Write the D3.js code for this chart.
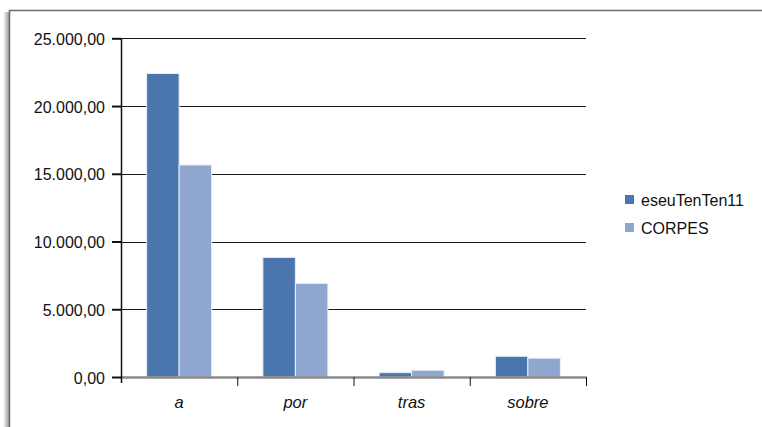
<!DOCTYPE html>
<html>
<head>
<meta charset="utf-8">
<script src="https://cdn.jsdelivr.net/npm/d3@7"></script>
<style>
  html, body { margin: 0; padding: 0; background: #fff; }
  svg { display: block; font-family: "Liberation Sans", Arial, sans-serif; }
</style>
</head>
<body>
<svg id="chart" width="762" height="427"></svg>
<script>
// Prepositions and their frequencies in two corpora
const categories = ["a", "por", "tras", "sobre"];
const seriesNames = ["eseuTenTen11", "CORPES"];
const eseuTenTen11 = [22400, 8830, 320, 1530];
const corpes = [15650, 6910, 500, 1390];
const yTicks = [0, 5000, 10000, 15000, 20000, 25000];

const seriesValues = [eseuTenTen11, corpes];
const colors = ["#4a75ad", "#8fa7cf"];

const svg = d3.select("#chart");

// Frame with a soft shadow on its left edge
const defs = svg.append("defs");
const grad = defs.append("linearGradient").attr("id", "shade").attr("x1", 0).attr("x2", 1);
grad.append("stop").attr("offset", 0).attr("stop-color", "#fff");
grad.append("stop").attr("offset", 1).attr("stop-color", "#8a8a8a");
svg.append("rect").attr("x", 3).attr("y", 12).attr("width", 7).attr("height", 420).attr("fill", "url(#shade)");
svg.append("rect").attr("x", 9.5).attr("y", 10.5).attr("width", 800).attr("height", 500)
  .attr("fill", "#fff").attr("stroke", "#6e6e6e").attr("stroke-width", 1.5);

const plotLeft = 121, plotRight = 586, plotTop = 38.3, plotBottom = 377;

const locale = d3.formatLocale({ decimal: ",", thousands: ".", grouping: [3], currency: ["", " €"] });
const fmt = locale.format(",.2f");

const y = d3.scaleLinear().domain([0, 25000]).range([plotBottom, plotTop]);
const x0 = d3.scaleBand().domain(categories).range([plotLeft, plotRight]).paddingInner(0).paddingOuter(0);
const bw = x0.bandwidth();
const barPair = 65;
const x1 = d3.scaleBand().domain(seriesNames).range([(bw - barPair) / 2, (bw + barPair) / 2]);

// Horizontal gridlines
svg.append("g").selectAll("line").data(yTicks.filter(d => d > 0)).join("line")
  .attr("x1", plotLeft).attr("x2", plotRight)
  .attr("y1", d => Math.round(y(d)) + 0.5).attr("y2", d => Math.round(y(d)) + 0.5)
  .attr("stroke", "#1a1a1a").attr("stroke-width", 1);

// Bars
const groups = svg.append("g").selectAll("g").data(categories).join("g")
  .attr("transform", d => `translate(${x0(d)},0)`);
groups.selectAll("rect")
  .data((c, i) => seriesNames.map((s, k) => ({ s, v: seriesValues[k][i], k })))
  .join("rect")
  .attr("x", d => x1(d.s))
  .attr("width", x1.bandwidth())
  .attr("y", d => y(d.v))
  .attr("height", d => plotBottom - y(d.v))
  .attr("fill", d => colors[d.k])
  .attr("stroke", "#e8eef6").attr("stroke-width", 1);

// Bottom axis: boundary ticks
const xb = d3.scaleLinear().domain([0, categories.length]).range([plotLeft, plotRight]);
const gx = svg.append("g").attr("transform", `translate(0,${plotBottom})`)
  .call(d3.axisBottom(xb).tickValues(d3.range(1, categories.length + 1)).tickFormat("").tickSize(9).tickSizeOuter(0));
gx.select(".domain").attr("stroke", "#8a8a8a").attr("stroke-width", 2.5);
gx.selectAll(".tick line").attr("stroke", "#111").attr("stroke-width", 1);

// Category labels
svg.append("g").selectAll("text").data(categories).join("text")
  .attr("x", d => x0(d) + bw / 2).attr("y", 408)
  .attr("text-anchor", "middle").attr("font-style", "italic").attr("font-size", 16.5)
  .attr("fill", "#111").text(d => d);

// Left axis
const gy = svg.append("g").attr("transform", `translate(${plotLeft},0)`)
  .call(d3.axisLeft(y).tickValues(yTicks).tickFormat(fmt).tickSize(9).tickPadding(7).tickSizeOuter(0));
gy.select(".domain").attr("stroke", "#111").attr("stroke-width", 1.5)
  .attr("d", `M0.5,${plotTop}V${plotBottom + 6}`);
gy.selectAll(".tick line").attr("stroke", "#111").attr("stroke-width", 2);
gy.selectAll(".tick text").attr("font-size", 16).attr("fill", "#111")
  .attr("font-family", "'Liberation Sans', Arial, sans-serif").attr("dy", "0.38em");

// Legend
const legend = svg.append("g").selectAll("g").data(seriesNames).join("g")
  .attr("transform", (d, i) => `translate(625,${195 + i * 28})`);
legend.append("rect").attr("width", 9).attr("height", 9).attr("fill", (d, i) => colors[i]);
legend.append("text").attr("x", 16).attr("y", 11).attr("font-size", 16).attr("fill", "#111").text(d => d);
</script>
</body>
</html>
